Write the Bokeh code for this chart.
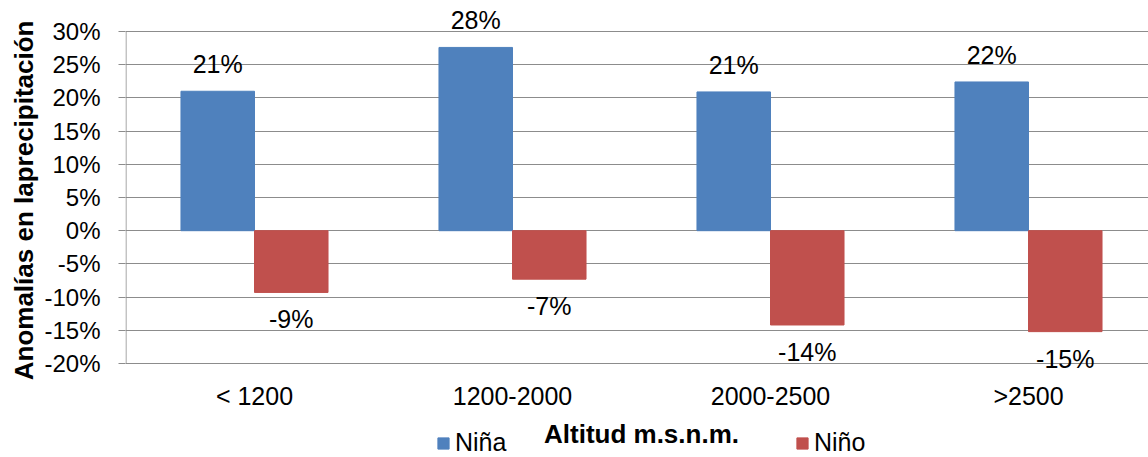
import numpy as np
from bokeh.plotting import figure
from bokeh.models import (ColumnDataSource, Range1d, FixedTicker, Legend, LegendItem, Title)
from bokeh.core.properties import value
from bokeh.embed import file_html
from bokeh.resources import INLINE

# Data: precipitation anomalies by altitude band
categories = ["< 1200", "1200-2000", "2000-2500", ">2500"]
nina = [0.210, 0.276, 0.209, 0.224]
nino = [-0.093, -0.073, -0.142, -0.152]
y_ticks = [-0.20, -0.15, -0.10, -0.05, 0.0, 0.05, 0.10, 0.15, 0.20, 0.25, 0.30]
x_title = "Altitud m.s.n.m."
y_title = "Anomalías en laprecipitación"

FONT = "Liberation Sans"
BLUE = "#4F81BD"
RED = "#C0504D"
GRID = "#8C8C8C"

W, H = 1148, 457
LEFT = 125            # width of the y-axis panel
TOP_PAD, BOT_PAD = 31, 94   # space above 30% and below -20% inside the frame

y_lo, y_hi = y_ticks[0], y_ticks[-1]
px_per_unit = (H - TOP_PAD - BOT_PAD) / (y_hi - y_lo)
n = len(categories)
cat_px = 258.0
x_hi = (W - LEFT) / cat_px

idx = np.arange(n)
centers = idx + 0.5
bar_w = 0.285

src_nina = ColumnDataSource(dict(
    x=centers - bar_w / 2, top=nina,
    label=[f"{round(v * 100)}%" for v in nina]))
src_nino = ColumnDataSource(dict(
    x=centers + bar_w / 2, top=nino,
    label=[f"{round(v * 100)}%" for v in nino]))
src_cat = ColumnDataSource(dict(x=centers, y=[y_lo] * n, label=categories))

p = figure(width=W, height=H, output_backend="svg", toolbar_location=None,
           x_range=Range1d(0, x_hi),
           y_range=Range1d(y_lo - BOT_PAD / px_per_unit, y_hi + TOP_PAD / px_per_unit),
           x_axis_location=None,
           min_border_left=LEFT, min_border_right=0, min_border_top=0,
           min_border_bottom=0)
p.outline_line_color = None
p.background_fill_color = "white"

# horizontal gridlines
p.xgrid.grid_line_color = None
p.ygrid.ticker = FixedTicker(ticks=y_ticks)
p.ygrid.grid_line_color = GRID
p.ygrid.grid_line_width = 1

# vertical axis line between -20% and 30%
p.segment(x0=[0.002], y0=[y_lo], x1=[0.002], y1=[y_hi], line_color=GRID, line_width=1)

r_nina = p.vbar(x="x", top="top", bottom=0, width=bar_w, source=src_nina,
                fill_color=BLUE, line_color=BLUE)
r_nino = p.vbar(x="x", top="top", bottom=0, width=bar_w, source=src_nino,
                fill_color=RED, line_color=RED)

# value labels above / below the bars
p.text(x="x", y="top", text="label", source=src_nina, text_align="center",
       text_baseline="alphabetic", y_offset=-27, text_font=value(FONT),
       text_font_size="25px", text_color="black")
p.text(x="x", y="top", text="label", source=src_nino, text_align="center",
       text_baseline="alphabetic", y_offset=27, text_font=value(FONT),
       text_font_size="25px", text_color="black")

# category labels and horizontal axis title
p.text(x="x", y="y", text="label", source=src_cat, text_align="center",
       text_baseline="alphabetic", y_offset=32, text_font=value(FONT),
       text_font_size="25px", text_color="black")
p.text(x=[n / 2], y=[y_lo], text=[x_title], text_align="center",
       text_baseline="alphabetic", y_offset=70, text_font=value(FONT),
       text_font_size="26px", text_font_style="bold", text_color="black")

# y axis
yax = p.yaxis[0]
yax.ticker = FixedTicker(ticks=y_ticks)
yax.major_label_overrides = {t: f"{round(t * 100)}%" for t in y_ticks}
yax.major_label_text_font = FONT
yax.major_label_text_font_size = "24px"
yax.major_label_text_color = "black"
yax.major_label_standoff = 18
yax.major_tick_out = 7
yax.major_tick_in = 0
yax.minor_tick_line_color = None
yax.axis_line_color = None
yax.major_tick_line_color = GRID

p.add_layout(Title(text=y_title, align="right", offset=20, standoff=5,
                   text_font=FONT, text_font_style="bold", text_font_size="26px",
                   text_color="black"), "left")

# legend entries beneath the chart
for name, rend, loc in [("Niña", r_nina, (311, 0)), ("Niño", r_nino, (670, 0))]:
    lg = Legend(items=[LegendItem(label=name, renderers=[rend])], location=loc,
                orientation="horizontal", padding=0, margin=0,
                glyph_width=14, glyph_height=14, label_standoff=5,
                label_text_font=FONT, label_text_font_size="25px",
                label_text_color="black", border_line_alpha=0,
                background_fill_alpha=0)
    p.add_layout(lg, "center")

open("out.html", "w").write(file_html(p, INLINE))
